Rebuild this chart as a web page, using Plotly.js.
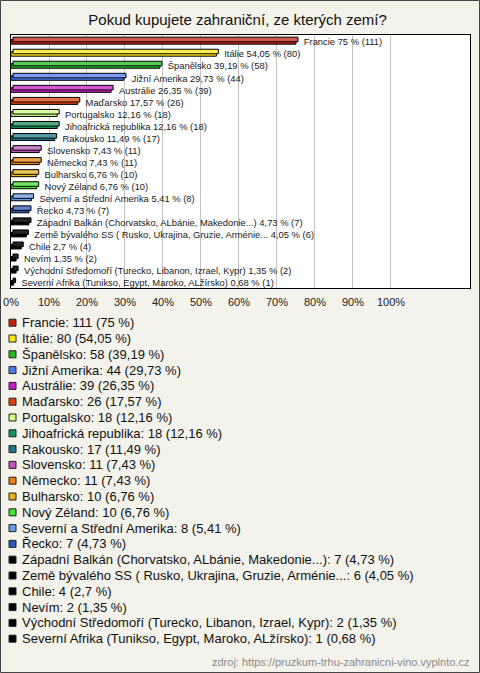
<!DOCTYPE html>
<html><head><meta charset="utf-8">
<script src="https://cdn.plot.ly/plotly-3.0.1.min.js"></script>
<style>html,body{margin:0;padding:0;background:#f3f2eb;}#chart{width:480px;height:673px;}</style>
</head><body><div id="chart"></div>
<script>
// ---- data ----
var categories = ["Francie","Itálie","Španělsko","Jižní Amerika","Austrálie","Maďarsko","Portugalsko","Jihoafrická republika","Rakousko","Slovensko","Německo","Bulharsko","Nový Zéland","Severní a Střední Amerika","Řecko","Západní Balkán (Chorvatsko, ALbánie, Makedonie...)","Země bývalého SS ( Rusko, Ukrajina, Gruzie, Arménie...","Chile","Nevím","Východní Středomoří (Turecko, Libanon, Izrael, Kypr)","Severní Afrika (Tunikso, Egypt, Maroko, ALžírsko)"];
var counts = [111,80,58,44,39,26,18,18,17,11,11,10,10,8,7,7,6,4,2,2,1];
var percents = [75,54.05,39.19,29.73,26.35,17.57,12.16,12.16,11.49,7.43,7.43,6.76,6.76,5.41,4.73,4.73,4.05,2.7,1.35,1.35,0.68];
var tickValues = [0,10,20,30,40,50,60,70,80,90,100];
var tickLabels = ["0%","10%","20%","30%","40%","50%","60%","70%","80%","90%","100%"];
var sourceText = "zdroj: https://pruzkum-trhu-zahranicni-vino.vyplnto.cz";
var titleText = "Pokud kupujete zahraniční, ze kterých zemí?";

// ---- styles ----
var colors = ["#c4210f","#ffe614","#1fbb1f","#4c79ec","#c81ec8","#e0410e","#ccff88","#16915a","#1f7888","#bb55bb","#e8820c","#e8b414","#44e030","#6a98e2","#2f55b8","#000000","#000000","#000000","#000000","#000000","#000000"];
function lighten(hex, f){
  var r=parseInt(hex.substr(1,2),16),g=parseInt(hex.substr(3,2),16),b=parseInt(hex.substr(5,2),16);
  r=Math.round(r+(255-r)*f);g=Math.round(g+(255-g)*f);b=Math.round(b+(255-b)*f);
  return "rgb("+r+","+g+","+b+")";
}
var topColors = colors.map(function(c){ return c==="#000000" ? "#222222" : lighten(c,0.25); });
function fmt(p){ return String(p).replace(".", ","); }
var barTexts = categories.map(function(c,i){ return "\u00a0\u00a0\u00a0" + c + " " + fmt(percents[i]) + " % (" + counts[i] + ")"; });
var legendTexts = categories.map(function(c,i){ return c + ": " + counts[i] + " (" + fmt(percents[i]) + " %)"; });

var W=480,H=673,L=11,R=470,T=35,B=288;
var pw=R-L, ph=B-T;
function px(x){return (x-L)/pw;}
function py(y){return (B-y)/ph;}

var back = {
  type:"bar", orientation:"h", x:percents, y:categories, xaxis:"x2",
  width:0.38, offset:-0.32,
  marker:{color:topColors, line:{color:"#000", width:1}},
  hoverinfo:"skip", showlegend:false
};
var front = {
  type:"bar", orientation:"h", x:percents, y:categories,
  width:0.38, offset:-0.12,
  marker:{color:colors, line:{color:"#000", width:1}},
  text:barTexts, textposition:"outside", constraintext:"none", cliponaxis:false,
  textfont:{family:"Liberation Sans, Arial, sans-serif", size:9.4, color:"#1a1a1a"},
  hoverinfo:"skip", showlegend:false
};

var shapes=[], annotations=[];
var rowH=15.8, row0=322.7;
categories.forEach(function(c,i){
  var yc=row0+rowH*i;
  shapes.push({type:"rect", xref:"paper", yref:"paper", x0:px(9), x1:px(16), y0:py(yc+3.5), y1:py(yc-3.5),
    fillcolor:colors[i], line:{color:"#222", width:1}});
  annotations.push({xref:"paper", yref:"paper", x:px(20), y:py(yc), xanchor:"left", yanchor:"middle",
    text:legendTexts[i], showarrow:false,
    font:{family:"Liberation Sans, Arial, sans-serif", size:13, color:"#111"}});
});
annotations.push({xref:"paper", yref:"paper", x:px(471), y:py(662), xanchor:"right", yanchor:"middle",
  text:sourceText, showarrow:false, font:{family:"Liberation Sans, Arial, sans-serif", size:11, color:"#8a8a8a"}});
shapes.push({type:"rect", xref:"paper", yref:"paper", x0:px(0.5), x1:px(479.5), y0:py(672.5), y1:py(0.5),
  line:{color:"#444", width:1}, fillcolor:"rgba(0,0,0,0)"});

var xr=[0,120.8];
var shift=2*(xr[1]-xr[0])/pw;
var layout = {
  width:W, height:H,
  margin:{l:L, r:W-R, t:T, b:H-B, pad:0},
  paper_bgcolor:"#f3f2eb", plot_bgcolor:"#ffffff",
  barmode:"overlay",
  title:{text:titleText, xref:"container", yref:"container", x:0.495, y:1-20/H, xanchor:"center", yanchor:"middle",
    font:{family:"Liberation Sans, Arial, sans-serif", size:15, color:"#111"}},
  xaxis:{range:xr, tickvals:tickValues, ticktext:tickLabels, showgrid:true, gridcolor:"#c4c4c4", gridwidth:1,
    zeroline:false, showline:true, mirror:true, linecolor:"#000", linewidth:1, ticks:"", ticklabelstandoff:4,
    tickfont:{family:"Liberation Sans, Arial, sans-serif", size:11, color:"#222"}, fixedrange:true},
  xaxis2:{range:[xr[0]-shift, xr[1]-shift], overlaying:"x", visible:false, fixedrange:true},
  yaxis:{type:"category", categoryarray:categories, range:[20.5,-0.5], showticklabels:false, showgrid:false,
    zeroline:false, showline:true, mirror:true, linecolor:"#000", linewidth:1, ticks:"", fixedrange:true},
  shapes:shapes, annotations:annotations, hovermode:false
};
Plotly.newPlot("chart",[back,front],layout,{displayModeBar:false, staticPlot:true});
</script></body></html>
